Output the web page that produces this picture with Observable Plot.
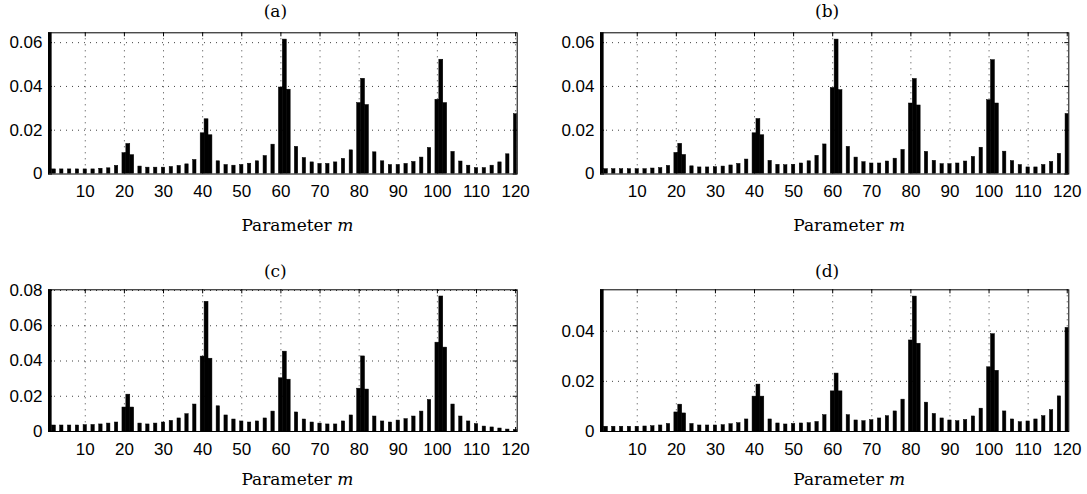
<!DOCTYPE html>
<html>
<head>
<meta charset="utf-8">
<script src="https://cdn.jsdelivr.net/npm/d3@7"></script>
<script src="https://cdn.jsdelivr.net/npm/@observablehq/plot@0.6"></script>
<style>
  html, body { margin: 0; padding: 0; background: #fff; }
  #wrap { position: relative; width: 1087px; height: 494px; overflow: hidden; }
  .panel { position: absolute; }
  .lbl { position: absolute; font-family: 'DejaVu Serif', serif; font-size: 17px; line-height: 1; color: #000; white-space: nowrap; }
</style>
</head>
<body>
<div id="wrap"></div>
<script>
// Parameter m at which a bar is drawn (m = 1 is off-scale, clipped at the top)
const mValues = [1,
  2,4,6,8,10,12,14,16,18, 20,21,22,
  24,26,28,30,32,34,36,38, 40,41,42,
  44,46,48,50,52,54,56,58, 60,61,62,
  64,66,68,70,72,74,76,78, 80,81,82,
  84,86,88,90,92,94,96,98, 100,101,102,
  104,106,108,110,112,114,116,118,120];

const seriesA = [0.2,
  0.0021,0.0021,0.0021,0.0021,0.0021,0.0021,0.0024,0.0026,0.0037, 0.0095,0.0137,0.0086,
  0.0034,0.0029,0.0029,0.0029,0.0032,0.0037,0.0044,0.0064, 0.0186,0.0250,0.0177,
  0.0058,0.0041,0.0038,0.0041,0.0047,0.0058,0.0082,0.0134, 0.0395,0.0614,0.0385,
  0.0124,0.0073,0.0053,0.0046,0.0046,0.0053,0.0069,0.0108, 0.0324,0.0435,0.0315,
  0.0099,0.0058,0.0041,0.0041,0.0046,0.0055,0.0075,0.0119, 0.0339,0.0522,0.0324,
  0.0101,0.0057,0.0038,0.0027,0.0027,0.0038,0.0053,0.0090,0.0273];

const seriesB = [0.2,
  0.0022,0.0022,0.0022,0.0022,0.0022,0.0022,0.0025,0.0027,0.0037, 0.0096,0.0138,0.0087,
  0.0035,0.0030,0.0030,0.0031,0.0034,0.0039,0.0046,0.0066, 0.0186,0.0251,0.0177,
  0.0060,0.0042,0.0040,0.0042,0.0048,0.0058,0.0083,0.0135, 0.0393,0.0614,0.0383,
  0.0124,0.0075,0.0054,0.0048,0.0048,0.0057,0.0070,0.0110, 0.0322,0.0434,0.0313,
  0.0101,0.0060,0.0045,0.0045,0.0048,0.0057,0.0078,0.0120, 0.0337,0.0520,0.0322,
  0.0102,0.0059,0.0041,0.0030,0.0030,0.0041,0.0055,0.0092,0.0274];

const seriesC = [0.2,
  0.0034,0.0034,0.0034,0.0034,0.0036,0.0037,0.0040,0.0045,0.0051, 0.0136,0.0209,0.0136,
  0.0045,0.0040,0.0045,0.0051,0.0060,0.0074,0.0098,0.0153, 0.0425,0.0736,0.0413,
  0.0143,0.0091,0.0068,0.0057,0.0051,0.0057,0.0074,0.0113, 0.0302,0.0453,0.0294,
  0.0108,0.0068,0.0051,0.0045,0.0040,0.0040,0.0057,0.0091, 0.0243,0.0426,0.0238,
  0.0085,0.0057,0.0051,0.0062,0.0070,0.0085,0.0113,0.0179, 0.0504,0.0766,0.0476,
  0.0153,0.0085,0.0057,0.0042,0.0028,0.0023,0.0017,0.0011,0.0009];

const seriesD = [0.2,
  0.0019,0.0019,0.0019,0.0019,0.0019,0.0020,0.0021,0.0024,0.0030, 0.0076,0.0107,0.0072,
  0.0030,0.0024,0.0024,0.0024,0.0025,0.0029,0.0033,0.0048, 0.0139,0.0187,0.0139,
  0.0048,0.0032,0.0028,0.0030,0.0032,0.0033,0.0038,0.0065, 0.0160,0.0231,0.0160,
  0.0065,0.0044,0.0041,0.0045,0.0052,0.0061,0.0080,0.0127, 0.0363,0.0538,0.0350,
  0.0115,0.0070,0.0052,0.0044,0.0041,0.0046,0.0060,0.0091, 0.0256,0.0388,0.0242,
  0.0080,0.0048,0.0037,0.0040,0.0048,0.0061,0.0085,0.0140,0.0413];

const xTicks = [10,20,30,40,50,60,70,80,90,100,110,120];
const yTicksAB = [0, 0.02, 0.04, 0.06];
const yTicksC = [0, 0.02, 0.04, 0.06, 0.08];
const yTicksD = [0, 0.02, 0.04];
const yMaxes = [0.0645, 0.0645, 0.0804, 0.0565];
const titles = ["(a)", "(b)", "(c)", "(d)"];
const xLabelText = "Parameter ";
const xLabelVar = "m";

const wrap = document.getElementById("wrap");

const panels = [
  {values: seriesA, yMax: yMaxes[0], yTicks: yTicksAB, title: titles[0], left: 0,   top: 0,   w: 543, ml: 48, mr: 26.3, mt: 32.3, mb: 73.5, titleY: 11.3, labelBase: 231},
  {values: seriesB, yMax: yMaxes[1], yTicks: yTicksAB, title: titles[1], left: 543, top: 0,   w: 544, ml: 57, mr: 18.7, mt: 32.3, mb: 73.5, titleY: 11.3, labelBase: 231},
  {values: seriesC, yMax: yMaxes[2], yTicks: yTicksC,  title: titles[2], left: 0,   top: 247, w: 543, ml: 48, mr: 26.3, mt: 42.3, mb: 63,   titleY: 270.5, labelBase: 485},
  {values: seriesD, yMax: yMaxes[3], yTicks: yTicksD,  title: titles[3], left: 543, top: 247, w: 544, ml: 57, mr: 18.7, mt: 42.3, mb: 63,   titleY: 270.5, labelBase: 485}
];

// adjacent bars (spacing 1) touch each other; isolated bars are a bit narrower
const mSet = new Set(mValues);
const halfW = m => (mSet.has(m - 1) || mSet.has(m + 1)) && m > 1 ? 0.5 : 0.43;

const H = 247;
for (const p of panels) {
  const data = mValues.map((mm, i) => ({m: mm, v: p.values[i]}));
  const fh = H - p.mt - p.mb;
  const fw = p.w - p.ml - p.mr;
  const dotted = {stroke: "#000", strokeOpacity: 0.75, strokeWidth: 1, strokeDasharray: "1,5"};
  const svg = Plot.plot({
    width: p.w, height: H,
    marginLeft: p.ml, marginRight: p.mr, marginTop: p.mt, marginBottom: p.mb,
    style: {fontFamily: "'Liberation Sans', Arial, sans-serif", fontSize: "17px", color: "#000", background: "transparent"},
    x: {domain: [0.6, 120.4]},
    y: {domain: [0, p.yMax]},
    marks: [
      Plot.gridX(xTicks, dotted),
      Plot.gridY(p.yTicks.filter(t => t > 0), dotted),
      Plot.rectY(data, {x1: d => d.m - halfW(d.m), x2: d => d.m + halfW(d.m), y: "v", fill: "#000", stroke: "#000", strokeWidth: 0.5, clip: true}),
      Plot.tickX(xTicks, {x: d => d, insetTop: fh - 4, stroke: "#000"}),
      Plot.tickX(xTicks, {x: d => d, insetBottom: fh - 4, stroke: "#000"}),
      Plot.tickY(p.yTicks, {y: d => d, insetRight: fw - 4, stroke: "#000"}),
      Plot.tickY(p.yTicks, {y: d => d, insetLeft: fw - 4, stroke: "#000"}),
      Plot.axisX(xTicks, {tickSize: 0, tickPadding: 11, label: null}),
      Plot.axisY(p.yTicks, {tickSize: 0, tickPadding: 6, label: null, tickFormat: d => d === 0 ? "0" : d.toFixed(2)}),
      Plot.frame({stroke: "#000", strokeWidth: 1})
    ]
  });
  const holder = document.createElement("div");
  holder.className = "panel";
  holder.style.left = p.left + "px";
  holder.style.top = p.top + "px";
  holder.appendChild(svg);
  wrap.appendChild(holder);

  const cx = p.left + p.ml + fw / 2;
  const t = document.createElement("div");
  t.className = "lbl";
  t.textContent = p.title;
  t.style.left = (cx - 7) + "px";
  t.style.top = p.titleY + "px";
  t.style.transform = "translate(-50%, -50%)";
  wrap.appendChild(t);

  const xl = document.createElement("div");
  xl.className = "lbl";
  xl.appendChild(document.createTextNode(xLabelText));
  const it = document.createElement("i");
  it.textContent = xLabelVar;
  xl.appendChild(it);
  xl.style.left = (cx + 15) + "px";
  xl.style.top = (p.labelBase - 14.4) + "px";
  xl.style.transform = "translateX(-50%)";
  wrap.appendChild(xl);
}
</script>
</body>
</html>
